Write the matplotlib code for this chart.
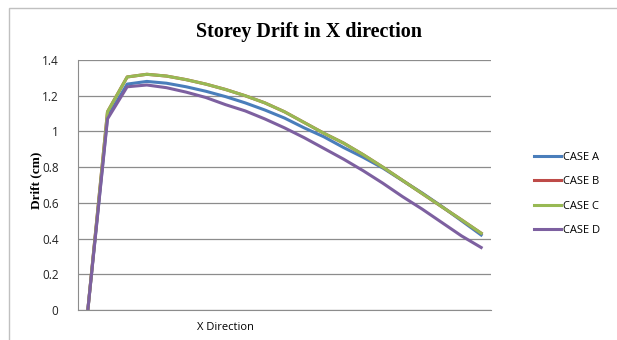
import numpy as np
import matplotlib.pyplot as plt
from matplotlib.patches import Rectangle

# storey drift values (cm) along the X direction, one point per storey level
levels = list(range(21))
case_a = [0, 1.08, 1.265, 1.28, 1.27, 1.25, 1.225, 1.195, 1.16, 1.12, 1.075,
          1.02, 0.97, 0.91, 0.855, 0.795, 0.725, 0.655, 0.58, 0.50, 0.42]
case_c = [0, 1.11, 1.305, 1.32, 1.31, 1.29, 1.265, 1.235, 1.20, 1.16, 1.11,
          1.05, 0.99, 0.935, 0.87, 0.80, 0.726, 0.652, 0.578, 0.505, 0.43]
case_b = list(case_c)
case_d = [0, 1.07, 1.25, 1.26, 1.245, 1.22, 1.19, 1.15, 1.115, 1.07, 1.02,
          0.965, 0.905, 0.845, 0.78, 0.71, 0.635, 0.565, 0.49, 0.415, 0.35]

series = [("CASE A", case_a, "#4A7EBB"),
          ("CASE B", case_b, "#BE4B48"),
          ("CASE C", case_c, "#98B954"),
          ("CASE D", case_d, "#7D60A0")]

fig = plt.figure(figsize=(6.17, 3.40), dpi=100)
fig.patches.append(Rectangle((9 / 617, -0.1), 1.2, 1 - 8 / 340 + 0.1,
                             transform=fig.transFigure, fill=False,
                             edgecolor="#c0c0c0", linewidth=1))

ax = fig.add_axes([78 / 617, 1 - 310 / 340, 413 / 617, 250 / 340])
for name, vals, col in series:
    ax.plot(levels, vals, color=col, linewidth=2.2, label=name,
            solid_joinstyle="round")

ax.set_xlim(-0.5, 20.5)
ax.set_ylim(0, 1.4)
ax.set_yticks(np.arange(0, 1.41, 0.2))
ax.set_yticklabels(["0", "0.2", "0.4", "0.6", "0.8", "1", "1.2", "1.4"])
ax.set_xticks([])
ax.grid(axis="y", color="#8c8c8c", linewidth=0.9)
ax.set_axisbelow(True)
for s in ["top", "right"]:
    ax.spines[s].set_visible(False)
ax.spines["left"].set_color("#8c8c8c")
ax.spines["bottom"].set_color("#8c8c8c")
ax.tick_params(axis="y", length=0, pad=14, labelsize=8.5, labelcolor="#222222")
for t in ax.get_yticklabels():
    t.set_family("Open Sans")

fig.text(0.5, 1 - 32 / 340, "Storey Drift in X direction", ha="center",
         va="center", fontsize=14.5, fontweight="bold", family="Liberation Serif")
fig.text(36 / 617, 1 - 180 / 340, "Drift (cm)", rotation=90, ha="center",
         va="center", fontsize=9.5, fontweight="bold", family="Liberation Serif")
fig.text(225 / 617, 1 - 327 / 340, "X Direction", ha="center", va="center",
         fontsize=8, family="Open Sans")

ax.legend(loc="center left", bbox_to_anchor=(524 / 617, 1 - 194 / 340),
          bbox_transform=fig.transFigure, frameon=False,
          handlelength=2.4, handletextpad=0.2, labelspacing=1.2,
          prop={"family": "Open Sans", "size": 8})

plt.savefig("out.png", dpi=100)
